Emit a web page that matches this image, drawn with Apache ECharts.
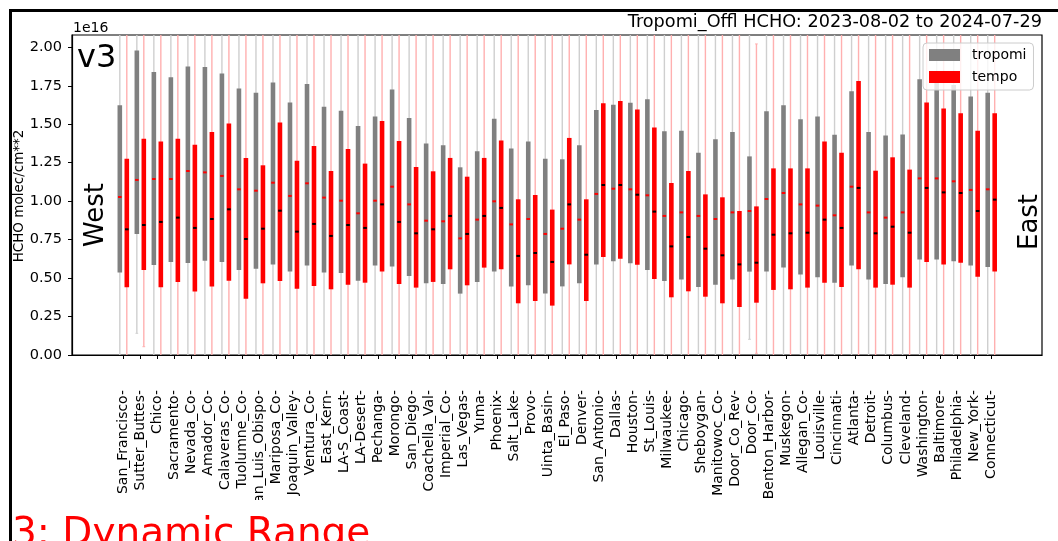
<!DOCTYPE html>
<html><head><meta charset="utf-8">
<script src="https://cdn.jsdelivr.net/npm/echarts@6/dist/echarts.min.js"></script>
<style>html,body{margin:0;padding:0;background:#fff;}#c{width:1058px;height:541px;}</style>
</head><body><div id="c"></div>
<script>
const sites = ['San_Francisco','Sutter_Buttes','Chico','Sacramento','Nevada_Co','Amador_Co','Calaveras_Co','Tuolumne_Co','San_Luis_Obispo','Mariposa_Co','Joaquin_Valley','Ventura_Co','East_Kern','LA-S_Coast','LA-Desert','Pechanga','Morongo','San_Diego','Coachella_Val','Imperial_Co','Las_Vegas','Yuma','Phoenix','Salt_Lake','Provo','Uinta_Basin','El_Paso','Denver','San_Antonio','Dallas','Houston','St_Louis','Milwaukee','Chicago','Sheboygan','Manitowoc_Co','Door_Co_Rev','Door_Co','Benton_Harbor','Muskegon','Allegan_Co','Louisville','Cincinnati','Atlanta','Detroit','Columbus','Cleveland','Washington','Baltimore','Philadelphia','New_York','Connecticut'];

// values in units of 1e16 molec/cm^2
const tropomiTop = [1.623,1.980,1.840,1.805,1.876,1.872,1.829,1.733,1.705,1.772,1.642,1.762,1.614,1.588,1.489,1.551,1.725,1.541,1.374,1.363,1.220,1.324,1.536,1.343,1.387,1.276,1.272,1.363,1.593,1.627,1.640,1.662,1.454,1.458,1.315,1.402,1.450,1.291,1.584,1.623,1.532,1.551,1.432,1.714,1.450,1.426,1.434,1.792,1.780,1.755,1.681,1.705];
const tropomiBottom = [0.537,0.787,0.585,0.605,0.598,0.613,0.605,0.553,0.561,0.589,0.542,0.581,0.537,0.533,0.483,0.581,0.576,0.514,0.466,0.462,0.399,0.475,0.542,0.446,0.453,0.399,0.446,0.466,0.589,0.609,0.596,0.553,0.481,0.490,0.442,0.457,0.490,0.542,0.542,0.568,0.524,0.505,0.470,0.581,0.490,0.462,0.505,0.620,0.620,0.609,0.581,0.572];
const tropomiMid = [1.027,1.138,1.144,1.144,1.196,1.187,1.164,1.077,1.068,1.120,1.034,1.116,1.023,1.003,0.921,1.003,1.094,0.979,0.873,0.869,0.758,0.880,0.999,0.849,0.884,0.787,0.821,0.880,1.047,1.081,1.077,1.038,0.904,0.927,0.904,0.884,0.927,0.936,1.014,1.053,0.979,0.971,0.908,1.094,0.927,0.893,0.927,1.148,1.148,1.129,1.073,1.077];
const tropomiWhiskLow = [-0.3,0.141,-0.3,-0.3,-0.3,-0.3,-0.3,-0.3,-0.3,-0.3,-0.3,-0.3,-0.3,-0.3,-0.3,-0.3,-0.3,-0.3,-0.3,-0.3,-0.3,-0.3,-0.3,-0.3,-0.3,-0.3,-0.3,-0.3,-0.3,-0.3,-0.3,-0.3,-0.3,-0.3,-0.3,-0.3,-0.3,0.102,-0.3,-0.3,-0.3,-0.3,-0.3,-0.3,-0.3,-0.3,-0.3,-0.3,-0.3,-0.3,-0.3,-0.3];
const tropomiWhiskHigh = [2.4,2.4,2.4,2.4,2.4,2.4,2.4,2.4,2.4,2.4,2.4,2.4,2.4,2.4,2.4,2.4,2.4,2.4,2.4,2.4,2.4,2.4,2.4,2.4,2.4,2.4,2.4,2.4,2.4,2.4,2.4,2.4,2.4,2.4,2.4,2.4,2.4,2.4,2.4,2.4,2.4,2.4,2.4,2.4,2.4,2.4,2.4,2.4,2.4,2.4,2.4,2.4];

const tempoTop = [1.276,1.406,1.387,1.406,1.367,1.450,1.504,1.281,1.233,1.512,1.263,1.359,1.196,1.339,1.244,1.521,1.391,1.222,1.194,1.281,1.159,1.281,1.395,1.012,1.040,0.945,1.411,1.012,1.636,1.651,1.595,1.478,1.118,1.196,1.044,1.025,0.936,0.966,1.213,1.213,1.213,1.387,1.315,1.781,1.198,1.285,1.205,1.642,1.603,1.571,1.458,1.571];
const tempoBottom = [0.440,0.553,0.440,0.475,0.412,0.446,0.483,0.366,0.466,0.481,0.431,0.449,0.427,0.457,0.470,0.542,0.462,0.438,0.475,0.557,0.453,0.568,0.557,0.336,0.351,0.321,0.589,0.351,0.637,0.626,0.587,0.494,0.375,0.414,0.379,0.336,0.312,0.340,0.423,0.427,0.438,0.470,0.442,0.557,0.438,0.457,0.438,0.605,0.589,0.600,0.509,0.542];
const tempoMid = [0.817,0.845,0.865,0.893,0.826,0.884,0.947,0.754,0.821,0.938,0.802,0.852,0.774,0.845,0.826,0.979,0.865,0.791,0.817,0.904,0.787,0.904,0.956,0.644,0.663,0.605,0.979,0.652,1.105,1.105,1.042,0.932,0.706,0.767,0.691,0.648,0.589,0.600,0.782,0.791,0.795,0.880,0.826,1.086,0.791,0.834,0.795,1.086,1.057,1.053,0.936,1.010];
const tempoWhiskLow = [-0.3,0.054,-0.3,-0.3,-0.3,-0.3,-0.3,-0.3,-0.3,-0.3,-0.3,-0.3,-0.3,-0.3,-0.3,-0.3,-0.3,-0.3,-0.3,-0.3,-0.3,-0.3,-0.3,-0.3,-0.3,-0.3,-0.3,-0.3,-0.3,-0.3,-0.3,-0.3,-0.3,-0.3,-0.3,-0.3,-0.3,0.011,-0.3,-0.3,-0.3,-0.3,-0.3,-0.3,-0.3,-0.3,-0.3,-0.3,-0.3,-0.3,-0.3,-0.3];
const tempoWhiskHigh = [2.4,2.4,2.4,2.4,2.4,2.4,2.4,2.4,2.4,2.4,2.4,2.4,2.4,2.4,2.4,2.4,2.4,2.4,2.4,2.4,2.4,2.4,2.4,2.4,2.4,2.4,2.4,2.4,2.4,2.4,2.4,2.4,2.4,2.4,2.4,2.4,2.4,2.022,2.4,2.4,2.4,2.4,2.4,2.4,2.4,2.4,2.4,2.4,2.4,2.4,2.4,2.4];

const yTickValues = [0, 0.25, 0.5, 0.75, 1.0, 1.25, 1.5, 1.75, 2.0];
const xTickValues = sites.map((s, i) => i);

const FONT = 'DejaVu Sans';
const BAR_W = 0.27, MED_W = 0.21, CAP_W = 0.16;

function makeSeries(name, color, whiskColor, medColor, offset, top, bot, mid, wLo, wHi) {
  const data = sites.map((s, i) => [i + offset, bot[i], top[i], mid[i], wLo[i], wHi[i]]);
  return {
    type: 'custom', name: name, itemStyle: { color: color },
    data: data, encode: { x: 0, y: [1, 2] }, z: 2,
    renderItem: function (params, api) {
      const cs = params.coordSys;
      const x = api.value(0);
      const pb = api.coord([x, api.value(1)]);
      const pt = api.coord([x, api.value(2)]);
      const pm = api.coord([x, api.value(3)]);
      const pl = api.coord([x, api.value(4)]);
      const ph = api.coord([x, api.value(5)]);
      const bw = api.size([BAR_W, 0])[0];
      const mw = api.size([MED_W, 0])[0];
      const cw = api.size([CAP_W, 0])[0];
      const yMin = cs.y, yMax = cs.y + cs.height;
      const clamp = v => Math.max(yMin, Math.min(yMax, v));
      const ch = [];
      ch.push({ type: 'line', shape: { x1: pt[0], y1: clamp(ph[1]), x2: pt[0], y2: clamp(pl[1]) },
        style: { stroke: whiskColor, lineWidth: 1.4 } });
      [pl, ph].forEach(p => {
        if (p[1] >= yMin && p[1] <= yMax) {
          ch.push({ type: 'line', shape: { x1: p[0] - cw / 2, y1: p[1], x2: p[0] + cw / 2, y2: p[1] },
            style: { stroke: whiskColor, lineWidth: 1 } });
        }
      });
      ch.push({ type: 'rect', shape: { x: pt[0] - bw / 2, y: pt[1], width: bw, height: pb[1] - pt[1] },
        style: { fill: color } });
      ch.push({ type: 'rect', shape: { x: pm[0] - mw / 2, y: pm[1] - 1, width: mw, height: 2 },
        style: { fill: medColor } });
      return { type: 'group', children: ch };
    }
  };
}

const chart = echarts.init(document.getElementById('c'), null, { renderer: 'canvas' });
chart.setOption({
  animation: false,
  backgroundColor: '#fff',
  grid: { left: 72, top: 35, width: 970, height: 320, show: true, borderColor: '#000', borderWidth: 1.2 },
  xAxis: {
    type: 'value', min: -3, max: 54, interval: 1,
    axisLine: { onZero: false, lineStyle: { color: '#000', width: 1.2 } },
    axisTick: { show: true, length: 4, lineStyle: { color: '#000', width: 1 }, customValues: xTickValues },
    axisLabel: { rotate: 90, margin: 35, fontSize: 14, fontFamily: FONT, color: '#000',
      customValues: xTickValues, formatter: v => (sites[Math.round(v)] || '') + '-' },
    splitLine: { show: false }
  },
  yAxis: {
    type: 'value', min: 0, max: 2.08,
    axisLine: { show: true, onZero: false, lineStyle: { color: '#000', width: 1.2 } },
    axisTick: { show: true, length: 4, lineStyle: { color: '#000', width: 1 }, customValues: yTickValues },
    axisLabel: { margin: 10, fontSize: 14.5, fontFamily: FONT, color: '#000',
      customValues: yTickValues, formatter: v => v.toFixed(2) },
    splitLine: { show: false }
  },
  legend: {
    data: [{ name: 'tropomi', icon: 'rect' }, { name: 'tempo', icon: 'rect' }],
    orient: 'vertical', left: 923, top: 43, itemWidth: 31, itemHeight: 12, itemGap: 8,
    padding: [5, 7, 6, 6], backgroundColor: 'rgba(255,255,255,0.8)', borderColor: '#cccccc',
    borderWidth: 1, borderRadius: 4, selectedMode: false,
    textStyle: { fontFamily: FONT, fontSize: 14, color: '#000', padding: [0, 0, 0, 7] }
  },
  series: [
    makeSeries('tropomi', '#808080', '#cfcfcf', '#ff0000', -0.19, tropomiTop, tropomiBottom, tropomiMid, tropomiWhiskLow, tropomiWhiskHigh),
    makeSeries('tempo', '#ff0000', '#ffb0b0', '#000000', 0.22, tempoTop, tempoBottom, tempoMid, tempoWhiskLow, tempoWhiskHigh)
  ],
  graphic: [
    { type: 'rect', x: 20, y: 500, z: 100, silent: true, shape: { width: 1038, height: 14 }, style: { fill: '#fff' } },
    { type: 'rect', left: 8, top: 8, shape: { width: 1200, height: 800 }, style: { fill: 'none', stroke: '#000', lineWidth: 3 }, z: 101, silent: true },
    { type: 'text', x: 1042, y: 13, style: { text: 'Tropomi_Offl HCHO: 2023-08-02 to 2024-07-29', font: '17.7px "DejaVu Sans"', fill: '#000', align: 'right', verticalAlign: 'top' } },
    { type: 'text', x: 73, y: 21, style: { text: '1e16', font: '14px "DejaVu Sans"', fill: '#000', align: 'left', verticalAlign: 'top' } },
    { type: 'text', x: 77, y: 43, z: 10, style: { text: 'v3', font: '32px "DejaVu Sans"', fill: '#000', align: 'left', verticalAlign: 'top' } },
    { type: 'text', x: 96, y: 215, rotation: Math.PI / 2, z: 10, style: { text: 'West', font: '26px "DejaVu Sans"', fill: '#000', align: 'center', verticalAlign: 'middle' } },
    { type: 'text', x: 1030, y: 222, rotation: Math.PI / 2, z: 10, style: { text: 'East', font: '26px "DejaVu Sans"', fill: '#000', align: 'center', verticalAlign: 'middle' } },
    { type: 'text', x: 19, y: 196, rotation: Math.PI / 2, style: { text: 'HCHO molec/cm**2', font: '13.5px "DejaVu Sans"', fill: '#000', align: 'center', verticalAlign: 'middle' } },
    { type: 'text', x: 12, y: 515, z: 102, style: { text: '3: Dynamic Range', font: '39px "DejaVu Sans"', fill: '#ff0000', align: 'left', verticalAlign: 'top' } }
  ]
});
</script></body></html>
